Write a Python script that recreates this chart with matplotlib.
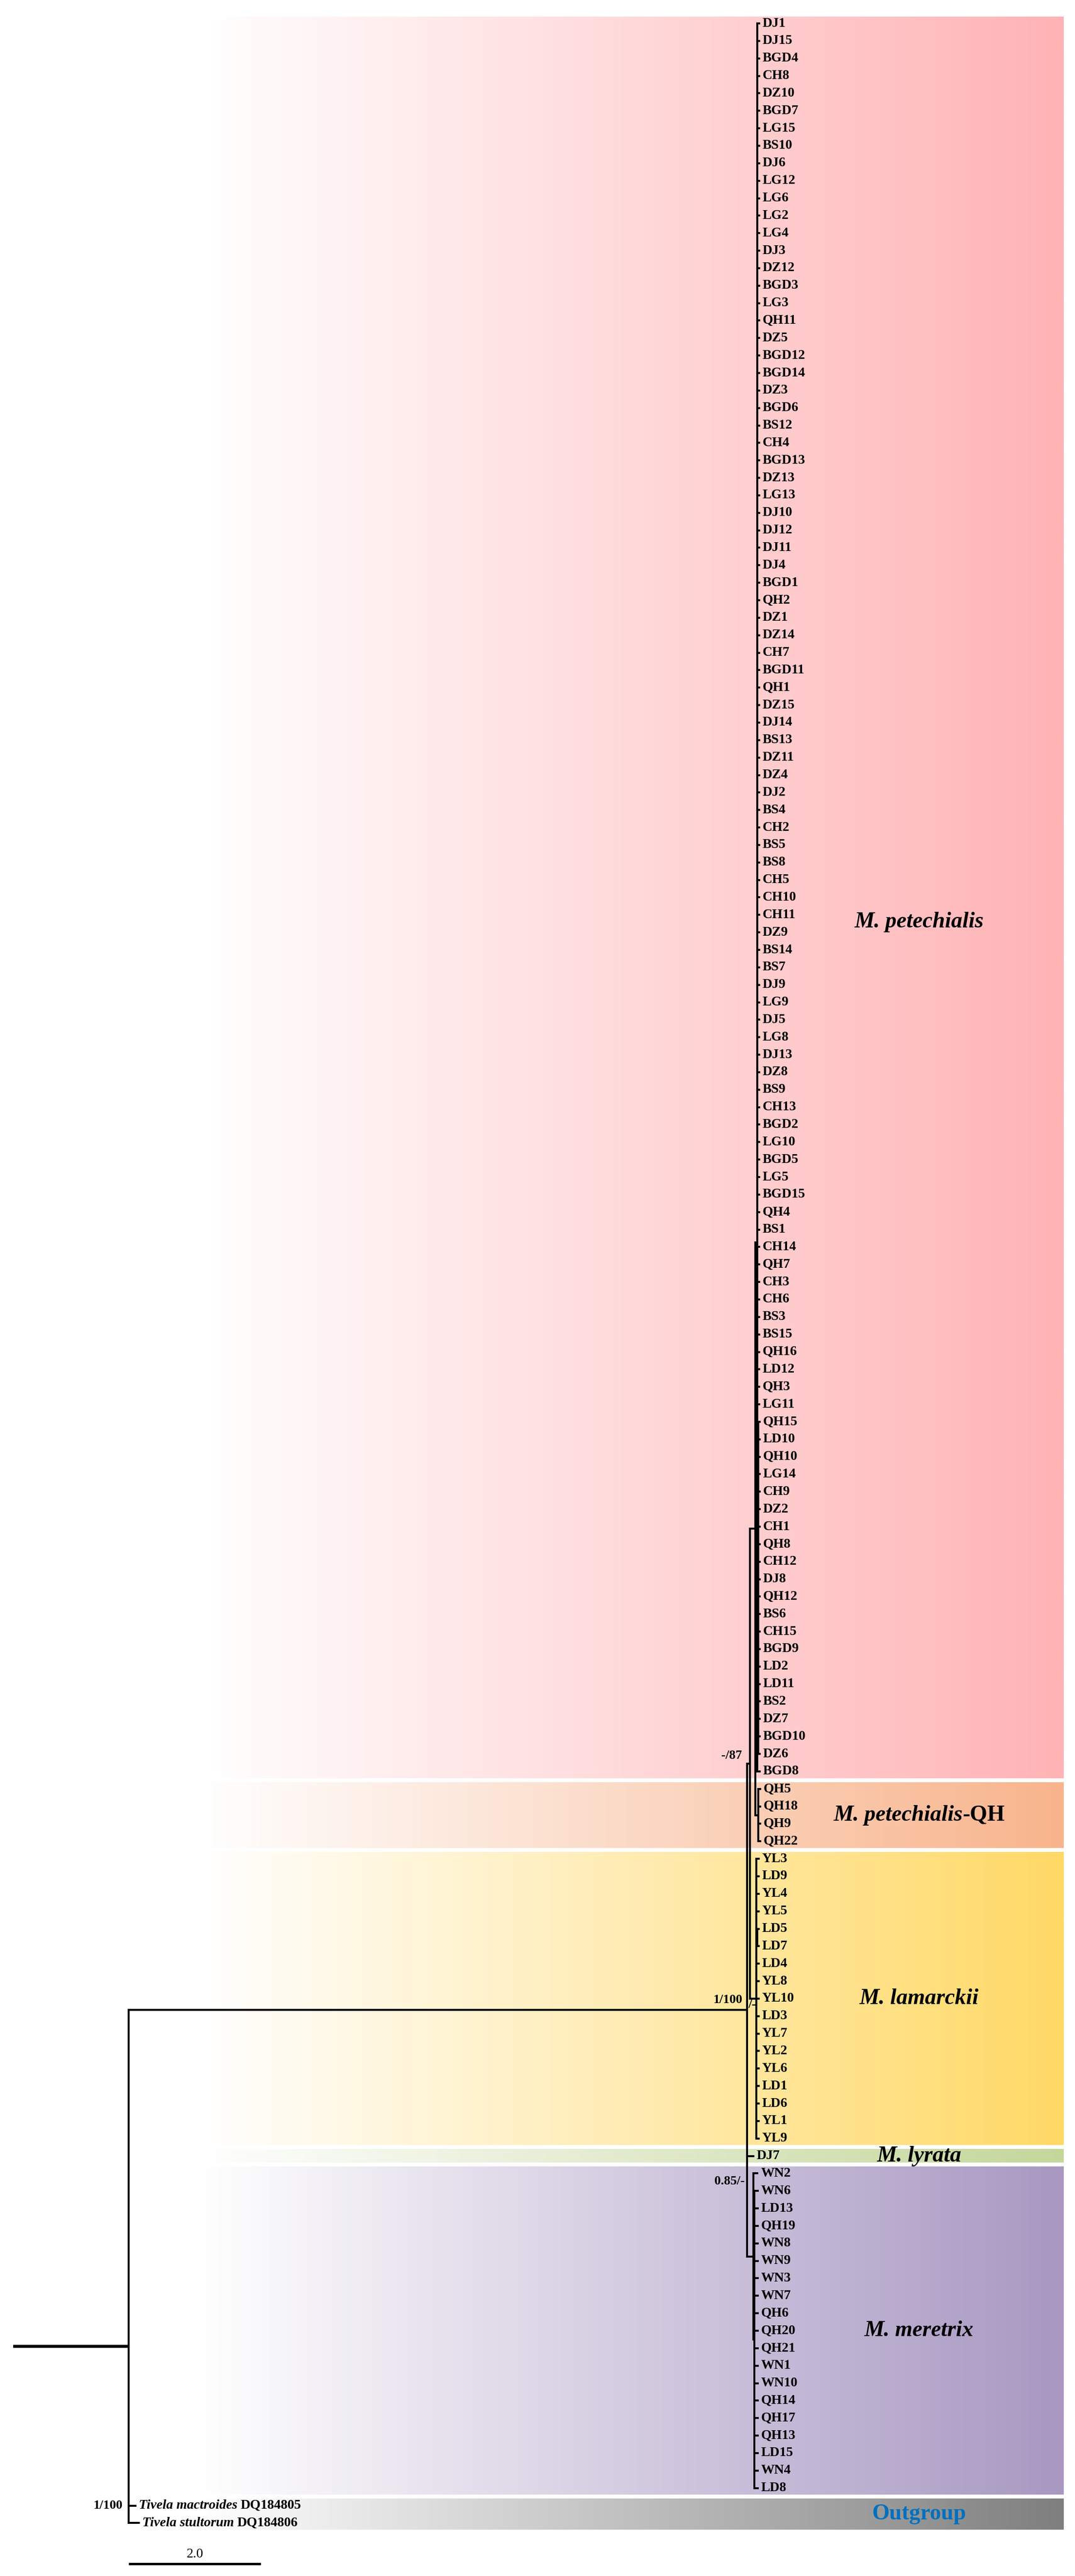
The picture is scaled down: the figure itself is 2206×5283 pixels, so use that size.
import matplotlib

matplotlib.use("Agg")
import matplotlib.pyplot as plt
import numpy as np
from matplotlib.colors import to_rgb
from matplotlib.offsetbox import AnnotationBbox, HPacker, TextArea

plt.rcParams["font.family"] = ["Liberation Serif", "DejaVu Serif"]

# ---- tip labels, top to bottom --------------------------------------------
PETECHIALIS = [
    "DJ1", "DJ15", "BGD4", "CH8", "DZ10", "BGD7", "LG15", "BS10", "DJ6", "LG12",
    "LG6", "LG2", "LG4", "DJ3", "DZ12", "BGD3", "LG3", "QH11", "DZ5", "BGD12",
    "BGD14", "DZ3", "BGD6", "BS12", "CH4", "BGD13", "DZ13", "LG13", "DJ10", "DJ12",
    "DJ11", "DJ4", "BGD1", "QH2", "DZ1", "DZ14", "CH7", "BGD11", "QH1", "DZ15",
    "DJ14", "BS13", "DZ11", "DZ4", "DJ2", "BS4", "CH2", "BS5", "BS8", "CH5",
    "CH10", "CH11", "DZ9", "BS14", "BS7", "DJ9", "LG9", "DJ5", "LG8", "DJ13",
    "DZ8", "BS9", "CH13", "BGD2", "LG10", "BGD5", "LG5", "BGD15", "QH4", "BS1",
    "CH14", "QH7", "CH3", "CH6", "BS3", "BS15", "QH16", "LD12", "QH3", "LG11",
]
PETECHIALIS_SUB = [
    "QH15", "LD10", "QH10", "LG14", "CH9", "DZ2", "CH1", "QH8", "CH12", "DJ8",
    "QH12", "BS6", "CH15", "BGD9", "LD2", "LD11", "BS2", "DZ7", "BGD10", "DZ6",
]
PETECHIALIS_LAST = "BGD8"
PETECHIALIS_QH = ["QH5", "QH18", "QH9", "QH22"]
LAMARCKII = [
    "YL3", "LD9", "YL4", "YL5", "LD5", "LD7", "LD4", "YL8", "YL10", "LD3",
    "YL7", "YL2", "YL6", "LD1", "LD6", "YL1", "YL9",
]
LAMARCKII_PAIR = ["LD5", "LD7"]
LYRATA = ["DJ7"]
MERETRIX = [
    "WN2", "WN6", "LD13", "QH19", "WN8", "WN9", "WN3", "WN7", "QH6", "QH20",
    "QH21", "WN1", "WN10", "QH14", "QH17", "QH13", "LD15", "WN4", "LD8",
]
OUTGROUP_SPECIES = ["Tivela mactroides", "Tivela stultorum"]
OUTGROUP_ACCESSIONS = ["DQ184805", "DQ184806"]

CLADE_NAMES = ["M. petechialis", "M. petechialis", "M. lamarckii", "M. lyrata",
               "M. meretrix", "Outgroup"]
CLADE_SUFFIX = ["", "-QH", "", "", "", ""]
BAND_COLORS = ["#FFB3B5", "#F8B48C", "#FFD966", "#C4D79B", "#A898C2", "#7F7F7F"]

# ---- branch lengths (read against the 2.0 scale bar) ---------------------
ROOT_STEM = 1.75
INGROUP_STEM = 9.36
CORE_STEM = 0.05        # petechialis + lamarckii node (-/87)
PQ_STEM = 0.08
P_STEM = 0.025
P_SUB_STEM = 0.02
QH_STEM = 0.04
LAM_STEM = 0.09
LAM_PAIR_STEM = 0.02
LYRATA_TIP = 0.1
MER_STEM = 0.1
MER_SUB_STEM = 0.015
TIP_LEN = 0.03
OUT_TIPS = [0.1, 0.15]
SCALE_LEN = 2.0

SUPPORT_CORE = "-/87"
SUPPORT_INGROUP = "1/100"
SUPPORT_LAM = "/-"
SUPPORT_MER = "0.85/-"
SUPPORT_ROOT = "1/100"


def tip(name, length=TIP_LEN):
    return {"name": name, "len": length}


def clade(length, children, center="mid"):
    return {"len": length, "children": children, "center": center}


lam_children = []
for n in LAMARCKII:
    if n == LAMARCKII_PAIR[0]:
        lam_children.append(clade(LAM_PAIR_STEM, [tip(m, 0.02) for m in LAMARCKII_PAIR]))
    elif n not in LAMARCKII_PAIR:
        lam_children.append(tip(n, 0.04))

pet = clade(P_STEM, [
    clade(0.0, [tip(n) for n in PETECHIALIS]),
    clade(P_SUB_STEM, [tip(n, 0.02) for n in PETECHIALIS_SUB]),
    tip(PETECHIALIS_LAST, 0.04),
])
qh = clade(QH_STEM, [tip(n) for n in PETECHIALIS_QH])
pq = clade(PQ_STEM, [pet, qh])
lam = clade(LAM_STEM, lam_children)
core = clade(CORE_STEM, [pq, lam])
mer = clade(MER_STEM, [tip(MERETRIX[0], 0.06),
                       clade(MER_SUB_STEM, [tip(n, 0.05) for n in MERETRIX[1:]])])
ingroup = clade(INGROUP_STEM, [core, tip(LYRATA[0], LYRATA_TIP), mer])
root = clade(ROOT_STEM, [ingroup] + [tip(a, l) for a, l in zip(OUTGROUP_ACCESSIONS, OUT_TIPS)],
             center="mean")

tips, hsegs, vsegs = [], [], []


def layout(node, x_parent):
    x = x_parent + node["len"]
    if "children" in node:
        ys = [layout(c, x) for c in node["children"]]
        y = float(np.mean(ys)) if node["center"] == "mean" else (ys[0] + ys[-1]) / 2
        vsegs.append((x, ys[0], ys[-1]))
    else:
        y = float(len(tips))
        tips.append((node["name"], x, y))
    hsegs.append((y, x_parent, x))
    node["x"], node["y"] = x, y
    return y


layout(root, 0.0)
row_of = {name: y for name, x, y in tips}

fig = plt.figure(figsize=(22.06, 52.83), dpi=100)
ax = fig.add_axes([0, 0, 1, 1])
ax.set_axis_off()

# ---- gradient bands (white on the left, fading into the clade colour) ------
groups = [PETECHIALIS + PETECHIALIS_SUB + [PETECHIALIS_LAST], PETECHIALIS_QH, LAMARCKII,
          LYRATA, MERETRIX, OUTGROUP_ACCESSIONS]
band_x0, band_x1, pad = 2.83, 15.9, 0.38
for names, color in zip(groups, BAND_COLORS):
    r0, r1 = row_of[names[0]], row_of[names[-1]]
    t = np.linspace(0, 1, 256)[:, None]
    grad = (1 - t) * np.ones(3) + t * np.array(to_rgb(color))
    ax.imshow(grad[None, :, :], extent=(band_x0, band_x1, r1 + pad, r0 - pad),
              aspect="auto", interpolation="bilinear", zorder=0)

# ---- branches ----------------------------------------------------------------
stem = hsegs.pop()  # root stem, drawn thicker
h = ax.hlines([s[0] for s in hsegs], [s[1] for s in hsegs], [s[2] for s in hsegs],
              color="black", lw=2.9, zorder=3)
v = ax.vlines([s[0] for s in vsegs], [s[1] for s in vsegs], [s[2] for s in vsegs],
              color="black", lw=2.9, zorder=3)
h.set_capstyle("projecting")
v.set_capstyle("projecting")
ax.plot([stem[1], stem[2]], [stem[0], stem[0]], color="black", lw=4.5,
        solid_capstyle="butt", zorder=3)

# ---- tip labels ----------------------------------------------------------------
bold = dict(fontsize=20, fontweight="bold")
for name, x, y in tips:
    if name in OUTGROUP_ACCESSIONS:
        k = OUTGROUP_ACCESSIONS.index(name)
        box = HPacker(children=[
            TextArea(OUTGROUP_SPECIES[k], textprops=dict(fontstyle="italic", **bold)),
            TextArea(name, textprops=bold)], align="baseline", pad=0, sep=5)
        ax.add_artist(AnnotationBbox(box, (x, y), xybox=(5, 0), boxcoords="offset points",
                                     box_alignment=(0, 0.5), frameon=False, pad=0, zorder=4))
    else:
        ax.annotate(name, (x, y), xytext=(5, 0), textcoords="offset points",
                    ha="left", va="center", zorder=4, **bold)

# ---- support values ------------------------------------------------------------
sup = dict(fontsize=19, fontweight="bold", zorder=4, textcoords="offset points")
ax.annotate(SUPPORT_CORE, (core["x"], core["y"]), xytext=(-12, 12), ha="right", va="center", **sup)
ax.annotate(SUPPORT_INGROUP, (ingroup["x"], ingroup["y"]), xytext=(-6, 15), ha="right",
            va="center", **sup)
ax.annotate(SUPPORT_LAM, (lam["x"], lam["y"]), xytext=(-6, -9), ha="center", va="center", **sup)
ax.annotate(SUPPORT_MER, (ingroup["x"], row_of[LYRATA[0]] + 1.45), xytext=(-3, 0), ha="right",
            va="center", **sup)
ax.annotate(SUPPORT_ROOT, (root["x"], row_of[OUTGROUP_ACCESSIONS[0]]), xytext=(-9, 0),
            ha="right", va="center", **sup)

# ---- clade names ------------------------------------------------------------------
label_x = 13.72
label_shift = [1.4, 0, 0, 0, 0, 0]   # petechialis name sits a little below its middle
for names, title, suffix, dy in zip(groups, CLADE_NAMES, CLADE_SUFFIX, label_shift):
    yc = (row_of[names[0]] + row_of[names[-1]]) / 2 + dy
    if title == "Outgroup":
        parts = [TextArea(title, textprops=dict(fontsize=33, fontweight="bold", color="#0070C0"))]
    else:
        parts = [TextArea(title, textprops=dict(fontsize=33, fontweight="bold", fontstyle="italic"))]
        if suffix:
            parts.append(TextArea(suffix, textprops=dict(fontsize=33, fontweight="bold")))
    box = HPacker(children=parts, align="baseline", pad=0, sep=0)
    ax.add_artist(AnnotationBbox(box, (label_x, yc), box_alignment=(0.5, 0.5),
                                 frameon=False, pad=0, zorder=4))

# ---- scale bar ----------------------------------------------------------------------
scale_row = len(tips) + 1.33
ax.plot([root["x"], root["x"] + SCALE_LEN], [scale_row, scale_row], color="black", lw=3.6,
        solid_capstyle="butt")
ax.annotate(f"{SCALE_LEN:.1f}", (root["x"] + SCALE_LEN / 2, scale_row), xytext=(0, 14),
            textcoords="offset points", ha="center", va="center", fontsize=20)

ax.set_xlim(-0.2, 16.08)
ax.set_ylim(146.03, -1.34)
fig.savefig("out.png", dpi=100, facecolor="white")
